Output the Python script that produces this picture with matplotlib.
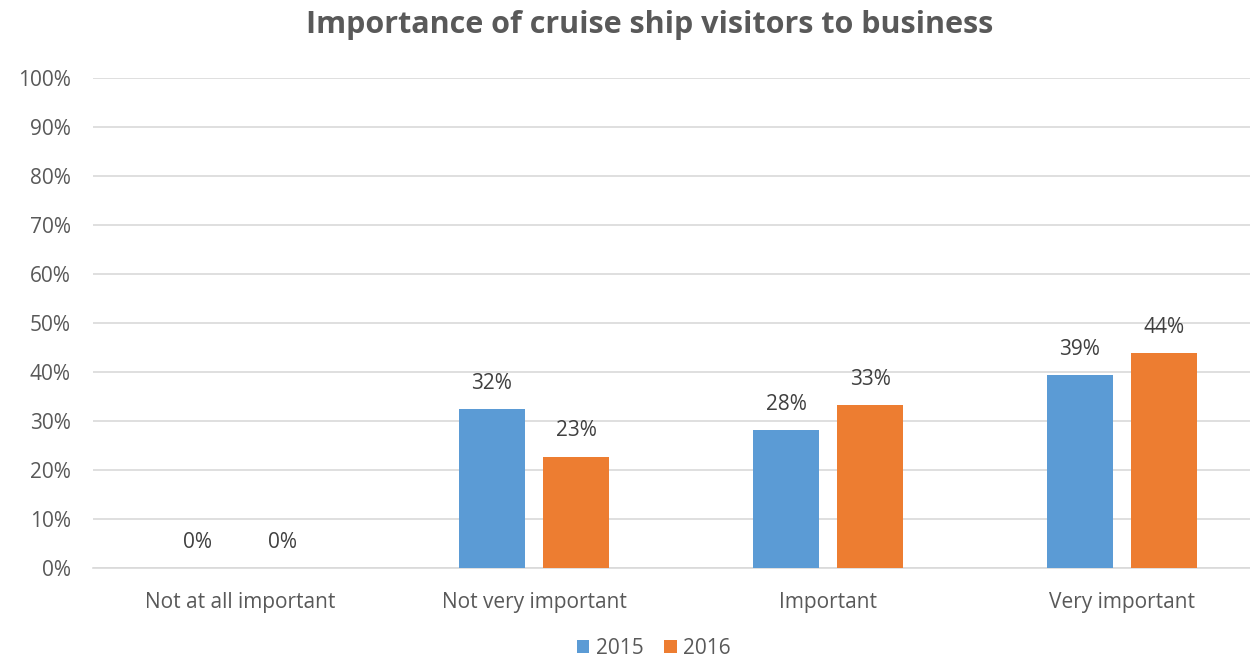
import matplotlib.pyplot as plt
import numpy as np
from matplotlib.ticker import FuncFormatter

categories = ["Not at all important", "Not very important", "Important", "Very important"]
series_names = ["2015", "2016"]
values_2015 = [0.0, 32.4, 28.2, 39.4]
values_2016 = [0.0, 22.7, 33.3, 43.9]

BLUE = "#5B9BD5"
ORANGE = "#ED7D31"
TEXT = "#595959"
GRID = "#D9D9D9"

plt.rcParams["font.family"] = ["Open Sans", "DejaVu Sans"]

fig = plt.figure(figsize=(12.5, 6.6), dpi=100)
ax = fig.add_axes([93 / 1250, (660 - 568) / 660, (1250 - 93) / 1250, 490 / 660])

x = np.arange(len(categories))
width = 0.225
offset = 0.143
bars = [
    ax.bar(x - offset, values_2015, width, color=BLUE, label=series_names[0], zorder=3),
    ax.bar(x + offset, values_2016, width, color=ORANGE, label=series_names[1], zorder=3),
]

# value labels above each bar, rounded to whole percent
for group in bars:
    for rect in group:
        h = rect.get_height()
        ax.annotate(f"{h:.0f}%", (rect.get_x() + rect.get_width() / 2, h),
                    xytext=(0, 11), textcoords="offset points",
                    ha="center", va="bottom", fontsize=15, color="#404040")

ax.set_xlim(-0.5, -0.5 + 1157 / 294)
ax.set_ylim(0, 100)
ax.set_yticks(np.arange(0, 101, 10))
ax.yaxis.set_major_formatter(FuncFormatter(lambda v, _: f"{v:.0f}%"))
ax.set_xticks(x)
ax.set_xticklabels(categories)
ax.tick_params(axis="both", length=0, labelsize=15, labelcolor=TEXT)
ax.tick_params(axis="x", pad=17)
ax.tick_params(axis="y", pad=16)
ax.grid(axis="y", color=GRID, linewidth=1.2, zorder=0)
for side in ("top", "right", "left"):
    ax.spines[side].set_visible(False)
ax.spines["bottom"].set_color(GRID)
ax.spines["bottom"].set_linewidth(1.2)

fig.suptitle("Importance of cruise ship visitors to business", x=0.52, y=0.985,
             fontsize=22, fontweight="bold", color=TEXT)

fig.legend(loc="lower center", bbox_to_anchor=(0.523, -0.027), ncol=2, frameon=False,
           fontsize=15, handlelength=0.6, handleheight=0.6, handletextpad=0.3,
           columnspacing=1.0, labelcolor=TEXT)

fig.savefig("out.png", dpi=100)
